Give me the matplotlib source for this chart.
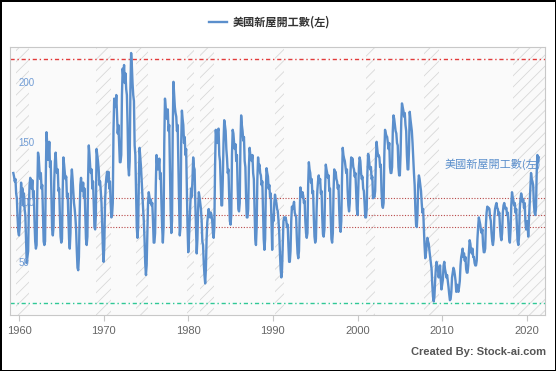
import numpy as np
import pandas as pd
import matplotlib
matplotlib.use('Agg')
import matplotlib.pyplot as plt
from matplotlib.lines import Line2D

plt.rcParams['font.family'] = ['Liberation Sans', 'Noto Sans CJK TC', 'DejaVu Sans']
plt.rcParams['hatch.linewidth'] = 0.6

# 美國新屋開工數 (千戶, 月資料, 1959-05 起)
starts_1959 = [125, 122, 118, 120, 108, 104, 88, 76]
starts_1960s = [
    73, 80, 100, 117, 105, 112, 98, 108, 95, 90, 70, 50,
    55, 60, 95, 115, 121, 118, 112, 119, 105, 110, 85, 68,
    62, 65, 110, 142, 138, 128, 120, 125, 112, 115, 92, 68,
    65, 68, 120, 159, 150, 136, 140, 151, 130, 135, 105, 78,
    73, 80, 118, 135, 142, 130, 125, 128, 110, 112, 90, 72,
    67, 70, 110, 138, 132, 125, 120, 122, 105, 108, 88, 70,
    62, 75, 118, 128, 120, 110, 100, 95, 88, 78, 60, 46,
    44, 55, 90, 115, 121, 112, 110, 117, 105, 112, 90, 70,
    65, 72, 120, 148, 140, 130, 125, 128, 112, 118, 98, 80,
    78, 90, 145, 140, 135, 128, 115, 118, 110, 100, 80, 62,
]
starts_1970s = [
    51, 65, 100, 115, 122, 126, 118, 126, 112, 118, 100, 88,
    90, 100, 160, 187, 182, 180, 190, 175, 158, 165, 150, 134,
    134, 140, 190, 212, 205, 215, 200, 208, 195, 190, 165, 130,
    123, 135, 195, 225, 215, 200, 190, 185, 148, 140, 110, 80,
    71, 80, 120, 146, 138, 130, 118, 105, 95, 85, 70, 50,
    40, 48, 75, 100, 109, 105, 100, 103, 98, 100, 85, 67,
    67, 75, 115, 140, 132, 128, 130, 137, 120, 125, 100, 80,
    67, 80, 150, 187, 180, 175, 170, 178, 160, 165, 130, 95,
    75, 85, 160, 201, 190, 180, 175, 172, 160, 165, 130, 100,
    73, 80, 150, 177, 170, 165, 150, 155, 140, 145, 110, 80,
]
starts_1980s = [
    59, 70, 85, 100, 112, 105, 120, 138, 130, 128, 100, 78,
    58, 70, 95, 109, 105, 100, 95, 85, 68, 65, 50, 40,
    33, 45, 70, 84, 90, 95, 90, 88, 92, 90, 85, 75,
    71, 80, 130, 161, 155, 150, 160, 162, 140, 135, 115, 98,
    98, 120, 150, 169, 165, 160, 145, 137, 125, 128, 105, 85,
    82, 90, 140, 161, 158, 150, 145, 149, 135, 140, 115, 95,
    93, 100, 150, 173, 165, 160, 152, 155, 135, 130, 105, 88,
    88, 95, 130, 146, 140, 138, 135, 140, 125, 120, 95, 70,
    65, 80, 120, 138, 130, 132, 125, 123, 115, 118, 95, 70,
    61, 70, 110, 129, 125, 122, 112, 115, 105, 108, 85, 61,
]
starts_1990s = [
    90, 85, 100, 107, 103, 100, 95, 93, 85, 75, 58, 45,
    38, 45, 65, 85, 88, 86, 88, 85, 80, 82, 65, 51,
    51, 60, 85, 97, 95, 98, 101, 92, 90, 88, 70, 58,
    54, 60, 90, 113, 108, 105, 109, 106, 100, 102, 85, 75,
    71, 75, 115, 134, 128, 125, 117, 120, 108, 110, 88, 72,
    67, 70, 95, 110, 118, 123, 117, 120, 108, 110, 88, 74,
    72, 78, 110, 132, 128, 125, 121, 123, 110, 112, 88, 70,
    67, 75, 110, 128, 125, 126, 120, 118, 112, 115, 95, 80,
    76, 85, 120, 146, 140, 137, 135, 130, 125, 128, 110, 98,
    93, 100, 125, 138, 135, 137, 130, 128, 122, 125, 110, 95,
]
starts_2000s = [
    90, 110, 130, 138, 135, 125, 120, 122, 112, 110, 100, 88,
    88, 95, 125, 141, 138, 131, 128, 130, 120, 122, 104, 106,
    105, 110, 135, 151, 145, 139, 140, 138, 130, 132, 110, 98,
    96, 100, 140, 161, 158, 156, 155, 150, 145, 150, 130, 125,
    125, 130, 160, 173, 170, 165, 160, 158, 150, 148, 130, 123,
    123, 140, 168, 183, 180, 177, 172, 175, 165, 160, 140, 128,
    128, 145, 176, 170, 165, 160, 150, 137, 125, 115, 95, 82,
    80, 90, 115, 123, 120, 115, 110, 100, 92, 95, 80, 65,
    54, 58, 65, 71, 68, 66, 60, 55, 50, 45, 32, 22,
    18, 22, 35, 45, 51, 48, 45, 38, 42, 48, 36, 28,
]
starts_2010s = [
    32, 36, 48, 51, 45, 42, 38, 40, 35, 30, 24, 19,
    20, 26, 38, 42, 46, 44, 40, 35, 26, 32, 28, 26,
    30, 35, 48, 55, 58, 62, 55, 58, 52, 55, 45, 42,
    42, 48, 60, 69, 66, 60, 58, 62, 55, 55, 50, 48,
    48, 52, 70, 80, 88, 85, 82, 77, 75, 78, 65, 59,
    59, 62, 82, 92, 97, 95, 96, 95, 88, 85, 75, 68,
    65, 70, 88, 95, 98, 100, 96, 95, 90, 92, 80, 72,
    69, 75, 92, 98, 100, 97, 95, 96, 90, 92, 82, 70,
    67, 78, 98, 109, 105, 102, 98, 100, 92, 95, 80, 68,
    65, 72, 95, 103, 108, 105, 101, 103, 96, 100, 85, 78,
]
starts_2020s = [
    80, 85, 72, 85, 100, 110, 125, 120, 118, 115, 100, 92,
    90, 95, 125, 140, 134, 138,
]

# 衰退期 (陰影區)
band_start = [1959.6, 1969.1, 1973.8, 1979.9, 1981.4, 1990.2, 2001.0, 2007.8, 2018.4]
band_end = [1961.2, 1970.9, 1975.2, 1980.7, 1983.0, 1991.3, 2002.1, 2009.6, 2022.3]

# 參考線
red_lines = [104, 90, 80]
top_line = 220
bottom_line = 16.7

yticks = [50, 100, 150, 200]
xticks = [1960, 1970, 1980, 1990, 2000, 2010, 2020]

values = np.array(starts_1959 + starts_1960s + starts_1970s + starts_1980s
                  + starts_1990s + starts_2000s + starts_2010s + starts_2020s)
dates = pd.date_range('1959-05-01', periods=len(values), freq='MS')
x = dates.year + (dates.month - 1) / 12

blue = '#5b8fcc'

fig = plt.figure(figsize=(5.56, 3.71), dpi=100)
fig.patch.set_facecolor('white')
fig.patch.set_edgecolor('black')
fig.patch.set_linewidth(2)

ax = fig.add_axes([10/556, 1-315/371, 535/556, 268/371])
ax.set_facecolor('#fafafa')
for s in ax.spines.values():
    s.set_color('#c8c8c8')
    s.set_linewidth(0.8)

for a, b in zip(band_start, band_end):
    ax.axvspan(a, b, facecolor='none', edgecolor='#d8d8d8', hatch='///', linewidth=0, zorder=1)

ax.axhline(top_line, color='#e23a3a', lw=1.0, ls=(0, (3, 2, 1, 2)), zorder=2)
for v in red_lines:
    ax.axhline(v, color='#b84848', lw=0.8, ls=(0, (1, 1.5)), zorder=2)
ax.axhline(bottom_line, color='#2fc896', lw=1.0, ls=(0, (3, 2, 1, 2)), zorder=2)

line, = ax.plot(x, values, color=blue, lw=1.7, zorder=3)

ax.set_xlim(1958.94, 2022.15)
ax.set_ylim(6.7, 230)

ax.set_xticks(xticks)
ax.set_xticklabels([str(t) for t in xticks], fontsize=8, color='#666666')
ax.tick_params(axis='x', length=4, color='#c8c8c8', pad=4)
ax.set_yticks([])
for t in yticks:
    ax.text(1959.9, t, str(t), fontsize=7, color='#6f9bd4', va='center', ha='left', zorder=4)

ax.text(2021.7, 132, '美國新屋開工數(左)', fontsize=8, color=blue, ha='right', va='center',
        family=['Noto Sans CJK TC'], zorder=4)

leg = fig.legend(handles=[Line2D([], [], color=blue, lw=1.7)], labels=['美國新屋開工數(左)'],
                 loc='center', bbox_to_anchor=(0.485, 1-22/371), frameon=False,
                 handlelength=1.6, handletextpad=0.5,
                 prop={'family': ['Noto Sans CJK TC'], 'size': 8, 'weight': 'bold'})
for t in leg.get_texts():
    t.set_color('#333333')

fig.text(546/556, 1-352/371, 'Created By: Stock-ai.com', fontsize=8, fontweight='bold',
         color='#555555', ha='right', va='center')

fig.savefig('out.png', dpi=100)
